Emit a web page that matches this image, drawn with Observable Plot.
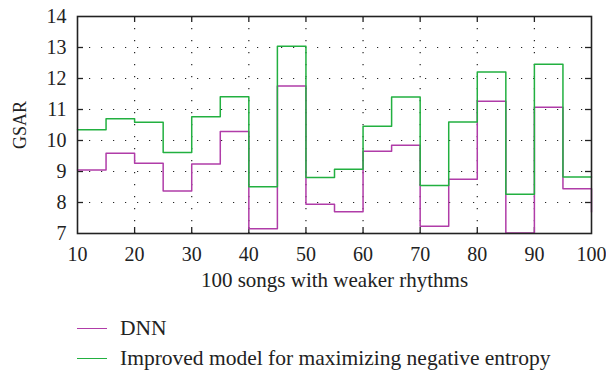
<!DOCTYPE html>
<html>
<head>
<meta charset="utf-8">
<script src="https://cdn.jsdelivr.net/npm/d3@7"></script>
<script src="https://cdn.jsdelivr.net/npm/@observablehq/plot@0.6"></script>
<style>
  body { margin: 0; background: #fff; font-family: "Liberation Serif", "DejaVu Serif", serif; }
  #wrap { width: 606px; height: 374px; position: relative; }
  .legend { position: absolute; left: 0; top: 300px; width: 606px; font-size: 21.5px; color: #222; }
  .row { position: absolute; left: 77px; height: 24px; display: flex; align-items: center; white-space: nowrap; }
  .sw { width: 30px; height: 0; border-top: 1.6px solid; margin-right: 13px; }
</style>
</head>
<body>
<div id="wrap"></div>
<script>
const songs = [10, 15, 20, 25, 30, 35, 40, 45, 50, 55, 60, 65, 70, 75, 80, 85, 90, 95, 100];
const dnn = [9.05, 9.59, 9.27, 8.37, 9.24, 10.29, 7.15, 11.76, 7.94, 7.70, 9.65, 9.85, 7.23, 8.75, 11.27, 7.02, 11.07, 8.44, 7.69];
const improved = [10.35, 10.70, 10.59, 9.61, 10.77, 11.41, 8.51, 13.04, 8.81, 9.07, 10.46, 11.40, 8.55, 10.60, 12.21, 8.27, 12.46, 8.82, 8.82];
const seriesNames = ["DNN", "Improved model for maximizing negative entropy"];
const seriesColors = ["#b03ca8", "#22b040"];
const xTicks = [10, 20, 30, 40, 50, 60, 70, 80, 90, 100];
const yTicks = [7, 8, 9, 10, 11, 12, 13, 14];
const xLabel = "100 songs with weaker rhythms";
const yLabel = "GSAR";

const data = [];
songs.forEach((s, i) => {
  data.push({song: s, value: dnn[i], series: seriesNames[0]});
  data.push({song: s, value: improved[i], series: seriesNames[1]});
});

const W = 606, H = 300;
const mL = 77, mR = 15, mT = 16, mB = 67;
const innerW = W - mL - mR, innerH = H - mT - mB;
const innerXTicks = xTicks.slice(1, -1);
const innerYTicks = yTicks.slice(1, -1);
const dot = {stroke: "#000", strokeOpacity: 0.85, strokeWidth: 1.2, strokeDasharray: "1.2,10.8"};

const chart = Plot.plot({
  width: W, height: H,
  marginLeft: mL, marginRight: mR, marginTop: mT, marginBottom: mB,
  style: {fontFamily: "Liberation Serif, DejaVu Serif, serif", fontSize: "20px", color: "#222", background: "#fff"},
  x: {domain: [10, 100]},
  y: {domain: [7, 14]},
  color: {domain: seriesNames, range: seriesColors},
  marks: [
    Plot.ruleY(innerYTicks, {y: d => d, ...dot}),
    Plot.ruleX(innerXTicks, {x: d => d, ...dot}),
    Plot.tickY(innerYTicks, {y: d => d, stroke: "#222", strokeWidth: 1.3, insetRight: innerW - 6}),
    Plot.tickY(innerYTicks, {y: d => d, stroke: "#222", strokeWidth: 1.3, insetLeft: innerW - 6}),
    Plot.tickX(innerXTicks, {x: d => d, stroke: "#222", strokeWidth: 1.3, insetTop: innerH - 6}),
    Plot.tickX(innerXTicks, {x: d => d, stroke: "#222", strokeWidth: 1.3, insetBottom: innerH - 6}),
    Plot.line(data, {x: "song", y: "value", z: "series", stroke: "series", curve: "step-after", strokeWidth: 1.5}),
    Plot.frame({stroke: "#222", strokeWidth: 1.6}),
    Plot.axisX(xTicks, {tickSize: 0, tickPadding: 13, fontSize: 20, label: null}),
    Plot.axisX({tickSize: 0, ticks: [], label: xLabel, labelAnchor: "center", labelOffset: 53, labelArrow: "none", fontSize: 21}),
    Plot.axisY(yTicks, {tickSize: 0, tickPadding: 11, fontSize: 20, label: null}),
    Plot.axisY({tickSize: 0, ticks: [], label: yLabel, labelAnchor: "center", labelOffset: 64, labelArrow: "none", fontSize: 18})
  ]
});

const wrap = document.getElementById("wrap");
wrap.appendChild(chart);
const legend = document.createElement("div");
legend.className = "legend";
seriesNames.forEach((name, i) => {
  const row = document.createElement("div");
  row.className = "row";
  row.style.top = (16 + i * 30) + "px";
  const sw = document.createElement("span");
  sw.className = "sw";
  sw.style.borderTopColor = seriesColors[i];
  const t = document.createElement("span");
  t.textContent = name;
  row.appendChild(sw);
  row.appendChild(t);
  legend.appendChild(row);
});
wrap.appendChild(legend);
</script>
</body>
</html>
